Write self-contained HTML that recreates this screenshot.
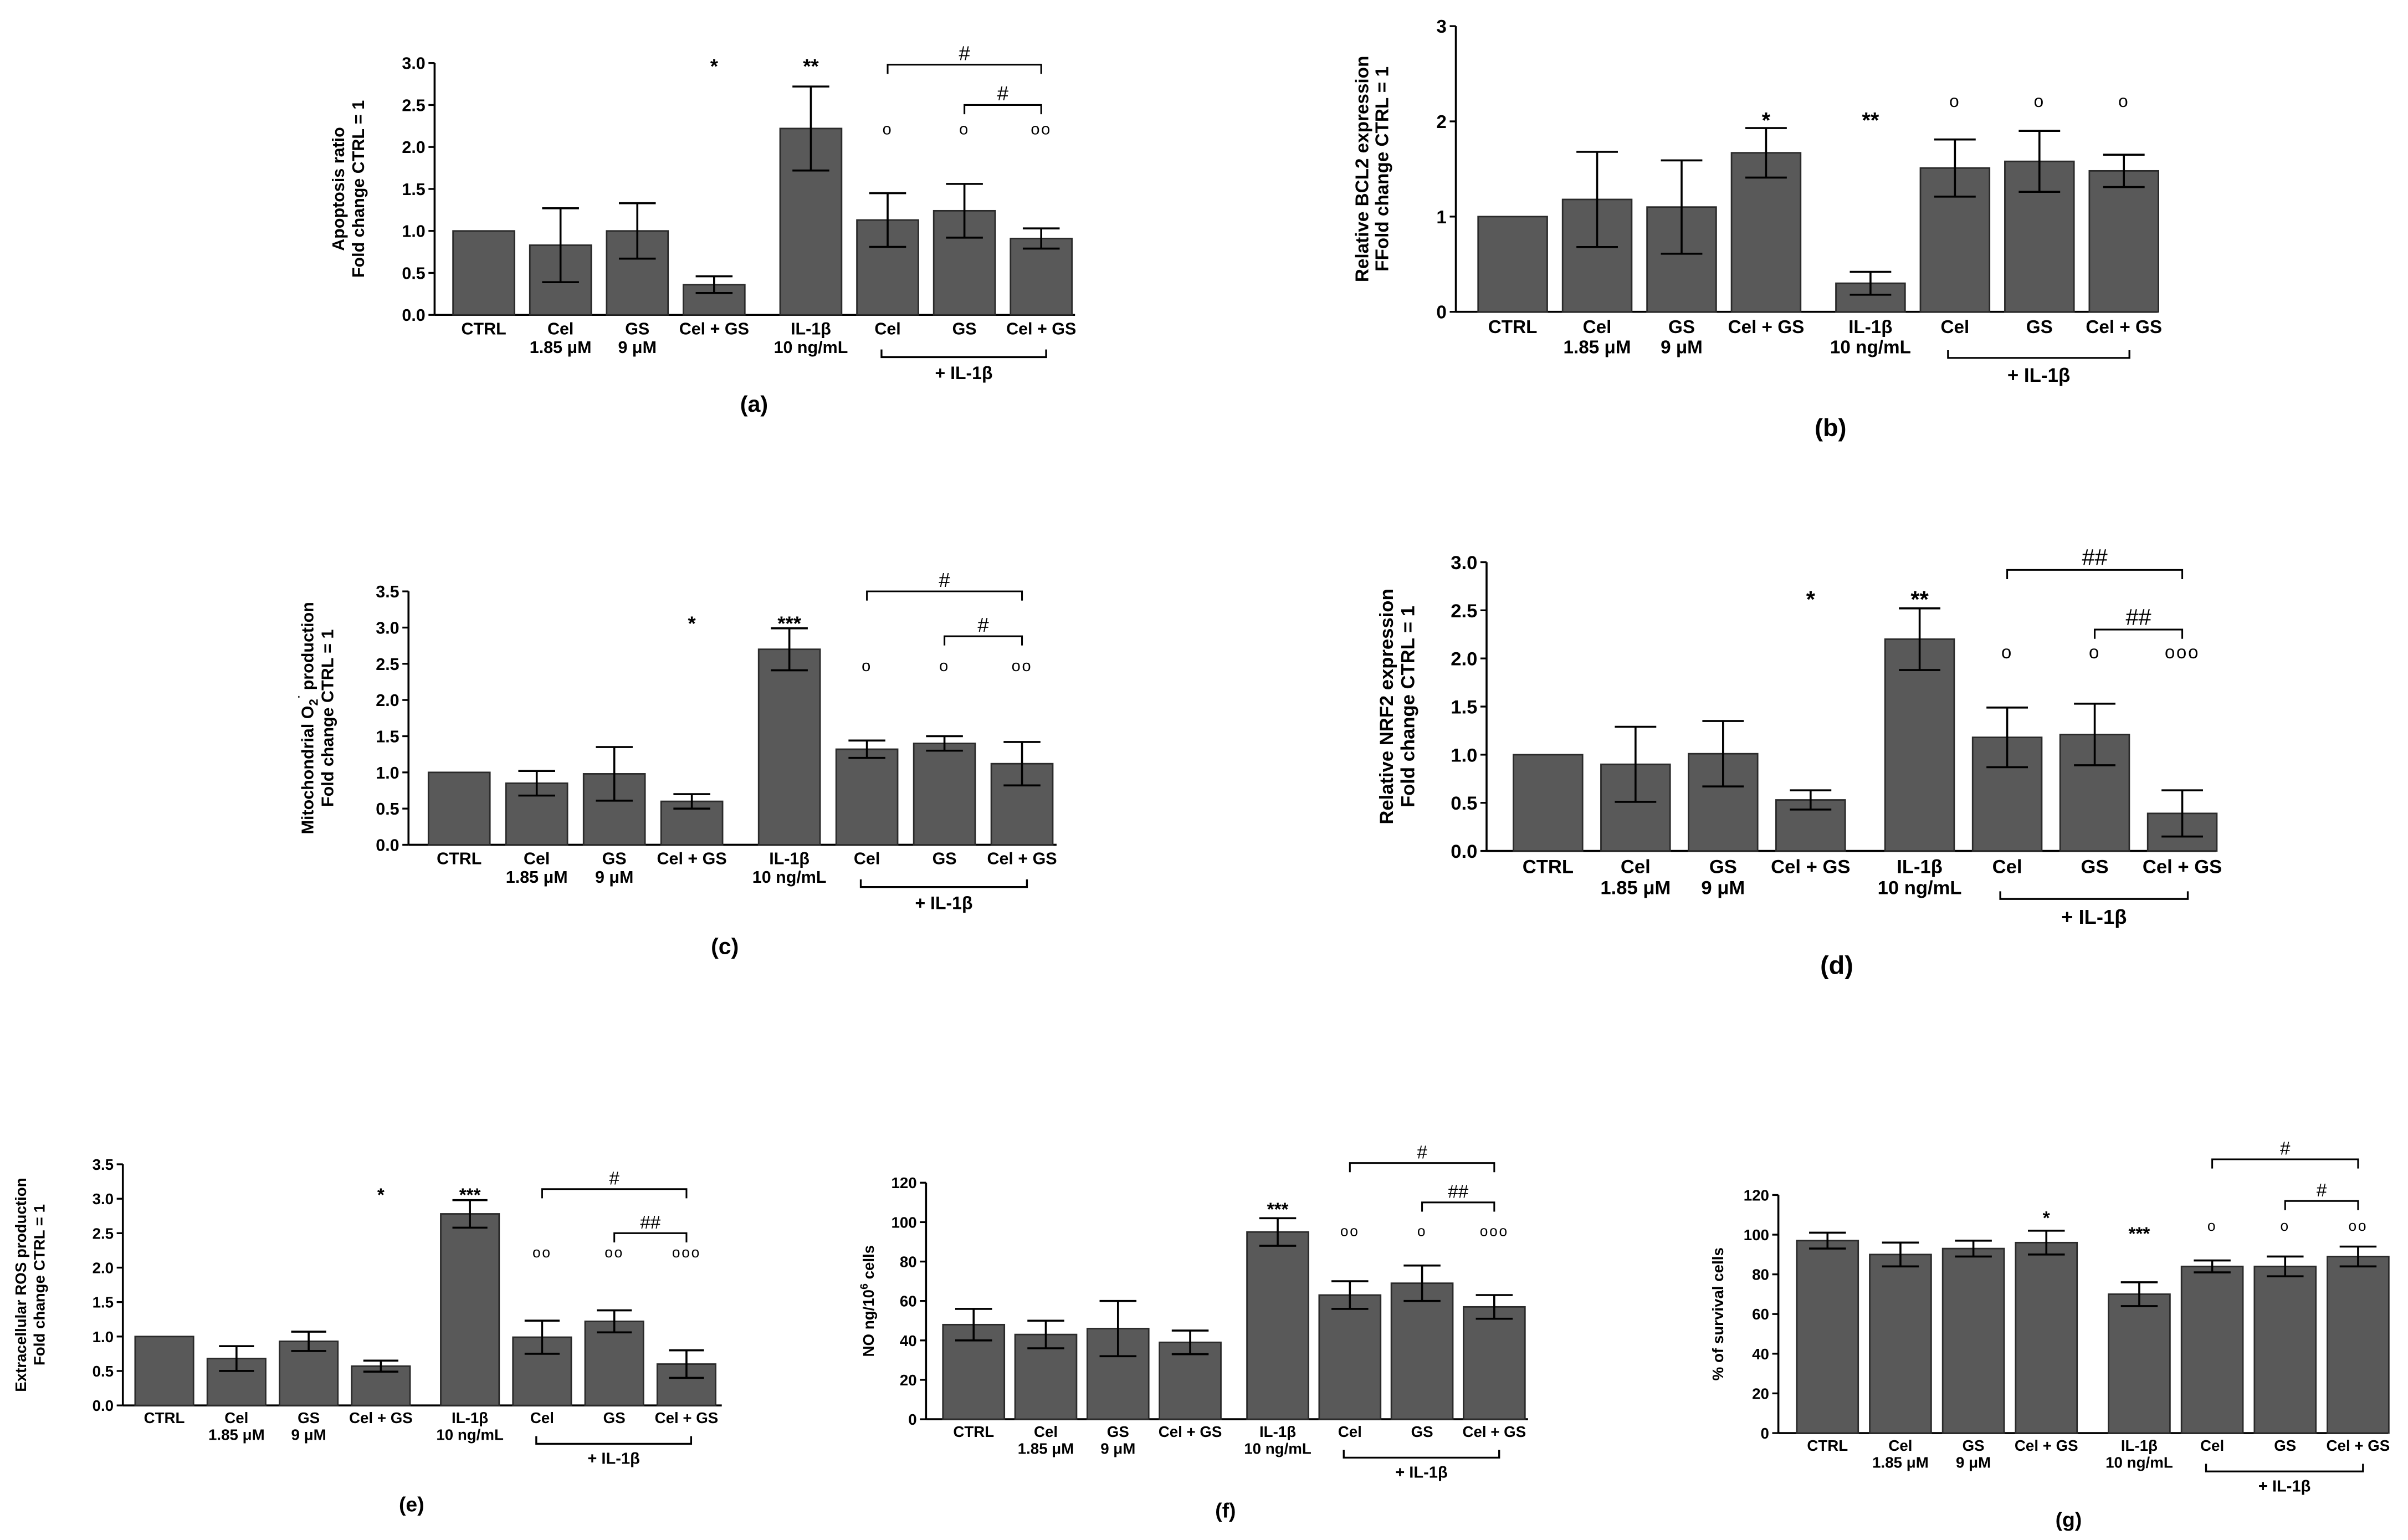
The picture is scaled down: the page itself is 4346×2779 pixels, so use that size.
<!DOCTYPE html>
<html><head><meta charset="utf-8">
<style>
html,body{margin:0;padding:0;background:#fff;}
svg{display:block;font-family:"Liberation Sans",Arial,sans-serif;font-weight:bold;}
</style></head>
<body>
<svg id="fig" xmlns="http://www.w3.org/2000/svg" width="4346" height="2779" viewBox="0 0 1568 1002.6">
<rect width="1568" height="1003" fill="#fff"/>
</svg>
<script>
const cats = ["CTRL","Cel","GS","Cel + GS","IL-1β","Cel","GS","Cel + GS"];
const subs = ["","1.85 μM","9 μM","","10 ng/mL","","",""];

const valsA = [1.0,0.83,1.0,0.36,2.22,1.13,1.24,0.91];
const errA  = [0,0.44,0.33,0.1,0.5,0.32,0.32,0.12];
const valsB = [1.0,1.18,1.1,1.67,0.3,1.51,1.58,1.48];
const errB  = [0,0.5,0.49,0.26,0.12,0.3,0.32,0.17];
const valsC = [1.0,0.85,0.98,0.6,2.7,1.32,1.4,1.12];
const errC  = [0,0.17,0.37,0.1,0.29,0.12,0.1,0.3];
const valsD = [1.0,0.9,1.01,0.53,2.2,1.18,1.21,0.39];
const errD  = [0,0.39,0.34,0.1,0.32,0.31,0.32,0.24];
const valsE = [1.0,0.68,0.93,0.57,2.78,0.99,1.22,0.6];
const errE  = [0,0.18,0.14,0.08,0.2,0.24,0.16,0.2];
const valsF = [48,43,46,39,95,63,69,57];
const errF  = [8,7,14,6,7,7,9,6];
const valsG = [97,90,93,96,70,84,84,89];
const errG  = [4,6,4,6,6,3,5,5];

const ticksA=[0,0.5,1,1.5,2,2.5,3], ticksB=[0,1,2,3], ticksC=[0,0.5,1,1.5,2,2.5,3,3.5];
const ticksD=[0,0.5,1,1.5,2,2.5,3], ticksE=[0,0.5,1,1.5,2,2.5,3,3.5], ticksF=[0,20,40,60,80,100,120], ticksG=[0,20,40,60,80,100,120];

const NS="http://www.w3.org/2000/svg";
const svg=document.getElementById('fig');
function mk(tag,attrs,parent,text){const e=document.createElementNS(NS,tag);for(const k in attrs)e.setAttribute(k,attrs[k]);if(text!==undefined)e.textContent=text;(parent||svg).appendChild(e);return e;}

function panel(p){
  const g=mk('g',{});
  
  
  const ymax=p.ticks[p.ticks.length-1];
  const Y=v=>p.y0-(v/ymax)*(p.y0-p.yTop);
  const X=i=>p.c0+i*p.sp+(i>=4?p.gap:0);
  const fs=p.fs;
  const ax=mk('line',{x1:p.x0,y1:p.yTop,x2:p.x0,y2:p.y0,stroke:'#000','stroke-width':1.3},g);
  
  const bx=mk('line',{x1:p.x0,y1:p.y0,x2:p.xEnd,y2:p.y0,stroke:'#000','stroke-width':1.3},g);
  
  p.ticks.forEach(t=>{
    mk('line',{x1:p.x0-4,y1:Y(t),x2:p.x0,y2:Y(t),stroke:'#000','stroke-width':1.2},g);
    const lab=mk('text',{x:p.x0-6,y:Y(t)+fs*0.36,'text-anchor':'end','font-size':fs},g,p.fmt(t));
    
  });
  p.vals.forEach((v,i)=>{
    const cx=X(i);
    const r=mk('rect',{x:cx-p.bw/2,y:Y(v),width:p.bw,height:p.y0-Y(v),fill:'#595959',stroke:'#2a2a2a','stroke-width':1},g);
    
    const e=p.err[i];
    if(e>0){
      const el=mk('path',{d:`M${cx},${Y(v-e)}V${Y(v+e)}M${cx-p.bw*0.3},${Y(v+e)}H${cx+p.bw*0.3}M${cx-p.bw*0.3},${Y(v-e)}H${cx+p.bw*0.3}`,stroke:'#000','stroke-width':1.3,fill:'none'},g);
      
    }
    const t1=mk('text',{x:cx,y:p.y0+fs*1.15,'text-anchor':'middle','font-size':fs},g,cats[i]);
    
    if(subs[i]){const t2=mk('text',{x:cx,y:p.y0+fs*2.25,'text-anchor':'middle','font-size':fs},g,subs[i]);
      }
  });
  const by=p.y0+fs*2.5, l=X(5)-p.bw*0.1, r=X(7)+p.bw*0.08;
  const br=mk('path',{d:`M${l},${by-5}V${by}H${r}V${by-5}`,stroke:'#000','stroke-width':1.2,fill:'none'},g);
  
  const bl=mk('text',{x:(l+r)/2,y:by+fs*1.3,'text-anchor':'middle','font-size':fs*1.05},g,'+ IL-1β');
  
  p.ann.forEach(a=>{
    const small=a[2].startsWith('o');
    const t=mk('text',{x:X(a[0]),y:Y(a[1])+(small?0:fs*0.6),'text-anchor':'middle','font-size':small?fs*0.95:fs*1.2,'font-weight':small?'normal':'bold','letter-spacing':small?1:0},g,a[2]);
    
  });
  p.brk.forEach(b=>{
    const yy=Y(b[2]);
    const pth=mk('path',{d:`M${X(b[0])},${yy+6}V${yy}H${X(b[1])}V${yy+6}`,stroke:'#000','stroke-width':1.1,fill:'none'},g);
    
    const t=mk('text',{x:(X(b[0])+X(b[1]))/2,y:yy-3,'text-anchor':'middle','font-size':fs*1.2,'font-weight':'normal'},g,b[3]);
    
  });
  const cy=(p.y0+p.yTop)/2;
  p.titles.forEach((tt,k)=>{
    const t=mk('text',{x:p.tx[k],y:cy,'text-anchor':'middle','font-size':fs,transform:`rotate(-90 ${p.tx[k]} ${cy})`},g);
    t.innerHTML=tt;
    
  });
  const L=mk('text',{x:p.lx,y:p.ly,'text-anchor':'middle','font-size':fs*1.35},g,'('+p.id+')');
  
}
const f1=t=>t.toFixed(1), f0=t=>String(t);

panel({id:'a',x0:283,xEnd:700,y0:205,yTop:41,ticks:ticksA,fmt:f1,c0:315,sp:50,gap:13,bw:40,fs:11,vals:valsA,err:errA,
  ann:[[3,3.0,'*'],[4,3.0,'**'],[5,2.15,'o'],[6,2.15,'o'],[7,2.15,'oo']],
  brk:[[5,7,2.98,'#'],[6,7,2.5,'#']],titles:['Apoptosis ratio','Fold change CTRL = 1'],tx:[224,237],lx:491,ly:268});
panel({id:'b',x0:948,xEnd:1405,y0:203,yTop:17,ticks:ticksB,fmt:f0,c0:985,sp:55,gap:13,bw:45,fs:12,vals:valsB,err:errB,
  ann:[[3,2.05,'*'],[4,2.05,'**'],[5,2.15,'o'],[6,2.15,'o'],[7,2.15,'o']],
  brk:[],titles:['Relative BCL2 expression','FFold change CTRL = 1'],tx:[891,904],lx:1192,ly:284});
panel({id:'c',x0:266,xEnd:688,y0:550,yTop:385,ticks:ticksC,fmt:f1,c0:299,sp:50.5,gap:13,bw:40,fs:11,vals:valsC,err:errC,
  ann:[[3,3.1,'*'],[4,3.1,'***'],[5,2.4,'o'],[6,2.4,'o'],[7,2.4,'oo']],
  brk:[[5,7,3.5,'#'],[6,7,2.88,'#']],titles:['Mitochondrial O<tspan font-size="8" dy="3">2</tspan><tspan font-size="8" dy="-7">˙</tspan><tspan dy="4"> production</tspan>','Fold change CTRL = 1'],tx:[204,217],lx:472,ly:621});
panel({id:'d',x0:968,xEnd:1443,y0:554,yTop:366,ticks:ticksD,fmt:f1,c0:1008,sp:57,gap:14,bw:45,fs:12.5,vals:valsD,err:errD,
  ann:[[3,2.65,'*'],[4,2.65,'**'],[5,2.0,'o'],[6,2.0,'o'],[7,2.0,'ooo']],
  brk:[[5,7,2.92,'##'],[6,7,2.3,'##']],titles:['Relative NRF2 expression','Fold change CTRL = 1'],tx:[907,921],lx:1196,ly:634});
panel({id:'e',x0:80,xEnd:470,y0:915,yTop:758,ticks:ticksE,fmt:f1,c0:107,sp:47,gap:11,bw:38,fs:10,vals:valsE,err:errE,
  ann:[[3,3.1,'*'],[4,3.1,'***'],[5,2.15,'oo'],[6,2.15,'oo'],[7,2.15,'ooo']],
  brk:[[5,7,3.14,'#'],[6,7,2.5,'##']],titles:['Extracellular ROS production','Fold change CTRL = 1'],tx:[17,29],lx:268,ly:984});
panel({id:'f',x0:603,xEnd:995,y0:924,yTop:770,ticks:ticksF,fmt:f0,c0:634,sp:47,gap:10,bw:40,fs:10,vals:valsF,err:errF,
  ann:[[4,108,'***'],[5,93,'oo'],[6,93,'o'],[7,93,'ooo']],
  brk:[[5,7,130,'#'],[6,7,110,'##']],titles:['NO ng/10<tspan font-size="7" dy="-4">6</tspan><tspan dy="4"> cells</tspan>'],tx:[569],lx:798,ly:988});
panel({id:'g',x0:1158,xEnd:1555,y0:933,yTop:778,ticks:ticksG,fmt:f0,c0:1190,sp:47.5,gap:13,bw:40,fs:10,vals:valsG,err:errG,
  ann:[[3,110,'*'],[4,102,'***'],[5,102,'o'],[6,102,'o'],[7,102,'oo']],
  brk:[[5,7,138,'#'],[6,7,117,'#']],titles:['% of survival cells'],tx:[1122],lx:1347,ly:994});
</script>
</body></html>
